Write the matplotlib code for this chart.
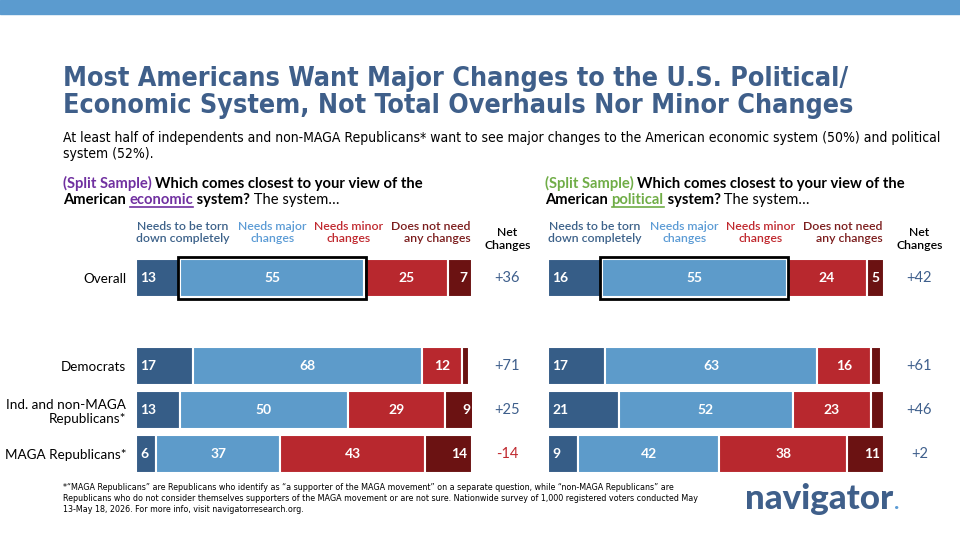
import matplotlib
matplotlib.use("Agg")
import matplotlib.pyplot as plt
from matplotlib.patches import Rectangle
from matplotlib.lines import Line2D
from matplotlib.font_manager import FontProperties, findfont

# ---- data ----
groups = ["Overall", "Democrats", "Ind. and non-MAGA\nRepublicans*", "MAGA Republicans*"]
answers = ["Needs to be torn\ndown completely", "Needs major\nchanges",
           "Needs minor\nchanges", "Does not need\nany changes"]

econ_torn = [13, 17, 13, 6]
econ_major = [55, 68, 50, 37]
econ_minor = [25, 12, 29, 43]
econ_none = [7, 2, 9, 14]
econ_net = [36, 71, 25, -14]

pol_torn = [16, 17, 21, 9]
pol_major = [55, 63, 52, 42]
pol_minor = [24, 16, 23, 38]
pol_none = [5, 3, 4, 11]
pol_net = [42, 61, 46, 2]

ypos = [0, 2, 3, 4]   # gap between Overall and the party rows

seg_colors = ["#365d87", "#5d9bca", "#b8282e", "#6b1212"]
head_colors = ["#3c6189", "#5b9bd5", "#c0282e", "#7b1c1c"]
title_blue = "#3f5f8a"
BODY = ["Lato", "DejaVu Sans"]


def condensed(weight):
    # the slide uses a condensed face; take one if it is installed
    for fam in ["Liberation Sans Narrow", "Noto Sans", "DejaVu Sans"]:
        try:
            p = findfont(FontProperties(family=fam, stretch="condensed", weight=weight),
                         fallback_to_default=False)
        except ValueError:
            continue
        if "ondensed" in p or "Narrow" in p:
            return dict(family=fam, fontstretch="condensed")
    return dict(family=BODY)


TITLE_FONT = condensed("bold")
NARROW = condensed("normal")

W, H = 960, 540
fig = plt.figure(figsize=(9.6, 5.4), dpi=100)
fig.patch.set_facecolor("white")
renderer = fig.canvas.get_renderer()


def fx(x):
    return x / W


def fy(y):
    return 1 - y / H


def fit(t, width):
    bb = t.get_window_extent(renderer)
    t.set_fontsize(t.get_fontsize() * width / bb.width)
    return t.get_fontsize()


# top band
fig.patches.append(Rectangle((0, fy(14)), 1, 14 / H, transform=fig.transFigure,
                             color="#5b9bcf", zorder=0))

# ---- title and subtitle ----
t1 = fig.text(fx(63), fy(86), "Most Americans Want Major Changes to the U.S. Political/",
              fontsize=22, fontweight="bold", color=title_blue, va="baseline", **TITLE_FONT)
tsize = fit(t1, 780)
fig.text(fx(63), fy(113), "Economic System, Not Total Overhauls Nor Minor Changes",
         fontsize=tsize, fontweight="bold", color=title_blue, va="baseline", **TITLE_FONT)
s1 = fig.text(fx(63), fy(142), "At least half of independents and non-MAGA Republicans* want to see major "
              "changes to the American economic system (50%) and political", fontsize=9.5,
              va="baseline", **NARROW)
ssize = fit(s1, 885)
fig.text(fx(63), fy(158), "system (52%).", fontsize=ssize, va="baseline", **NARROW)


def runs(x, y, parts, size=10.6):
    """Place text pieces one after another on a baseline (pixel coords)."""
    spans = []
    for s, kw in parts:
        t = fig.text(fx(x), fy(y), s, fontsize=size, va="baseline", family=BODY, **kw)
        w = t.get_window_extent(renderer).width
        spans.append((x, x + w))
        x += w
    return spans


def question(x, word, accent):
    runs(x, 188, [("(Split Sample) ", dict(color=accent, fontweight="bold")),
                  ("Which comes closest to your view of the", dict(color="black", fontweight="bold"))])
    spans = runs(x, 204, [("American ", dict(color="black", fontweight="bold")),
                          (word, dict(color=accent, fontweight="bold")),
                          (" system?", dict(color="black", fontweight="bold")),
                          (" The system\u2026", dict(color="black"))])
    u0, u1 = spans[1]
    fig.add_artist(Line2D([fx(u0), fx(u1)], [fy(206.5), fy(206.5)], color=accent, lw=1.2))


question(63, "economic", "#7030a0")
question(545, "political", "#70ad47")


def panel(x0, torn, major, minor, none, net, show_labels):
    ax = fig.add_axes([fx(x0), fy(476), 336 / W, 220 / H])
    vals = [torn, major, minor, none]
    left = [0] * len(groups)
    for k, series in enumerate(vals):
        ax.barh(ypos, series, left=left, height=0.86, color=seg_colors[k],
                edgecolor="white", linewidth=1.5)
        for i, v in enumerate(series):
            if v >= 5:
                if k == 0:
                    xt, ha = left[i] + 1.2, "left"
                elif k == 3:
                    xt, ha = left[i] + v - 1.3, "right"
                else:
                    xt, ha = left[i] + v / 2, "center"
                ax.text(xt, ypos[i], str(v), color="white", fontsize=10, fontweight="bold",
                        ha=ha, va="center", family=BODY)
        left = [a + b for a, b in zip(left, series)]
    # outline on the "major changes" segment of the Overall row
    ax.add_patch(Rectangle((torn[0] - 0.6, ypos[0] - 0.48), major[0] + 1.0, 0.96,
                           fill=False, edgecolor="black", linewidth=2, zorder=5, clip_on=False))
    ax.set_xlim(0, 100)
    ax.set_ylim(4.5, -0.5)
    for s in ax.spines.values():
        s.set_visible(False)
    ax.set_xticks([])
    if show_labels:
        ax.set_yticks(ypos, groups, fontsize=9.7, family=BODY, ha="right")
        ax.tick_params(axis="y", length=0, pad=7)
    else:
        ax.set_yticks([])
    # answer headers
    head_x = [14, 40.5, 63.3, 99.5]
    for k, lab in enumerate(answers):
        ax.text(head_x[k], 1.107, lab, transform=ax.get_xaxis_transform(),
                ha="right" if k == 3 else "center", va="center", fontsize=8.8,
                fontweight="semibold", color=head_colors[k], family=BODY,
                linespacing=1.15, clip_on=False)
    # net changes column
    net_x = 110.5
    ax.text(net_x, 1.077, "Net\nChanges", transform=ax.get_xaxis_transform(), ha="center",
            va="center", fontsize=8.8, fontweight="semibold", family=BODY, linespacing=1.2)
    for i, v in enumerate(net):
        ax.text(net_x, ypos[i], f"{v:+d}", ha="center", va="center", fontsize=10.5,
                color="#c0282e" if v < 0 else "#3e5f8c", family=BODY, clip_on=False)
    return ax


panel(136, econ_torn, econ_major, econ_minor, econ_none, econ_net, True)
panel(548, pol_torn, pol_major, pol_minor, pol_none, pol_net, False)

# ---- footer ----
f2 = fig.text(fx(63), fy(501), "Republicans who do not consider themselves supporters of the MAGA movement or are "
              "not sure. Nationwide survey of 1,000 registered voters conducted May", fontsize=6.3,
              va="baseline", **NARROW)
fsize = fit(f2, 635)
fig.text(fx(63), fy(490), "*\u201cMAGA Republicans\u201d are Republicans who identify as \u201ca supporter of the "
         "MAGA movement\u201d on a separate question, while \u201cnon-MAGA Republicans\u201d are",
         fontsize=fsize, va="baseline", **NARROW)
fig.text(fx(63), fy(512), "13-May 18, 2026. For more info, visit navigatorresearch.org.", fontsize=fsize,
         va="baseline", **NARROW)

logo = fig.text(fx(745), fy(509), "navigator", fontsize=25, fontweight="black", color=title_blue,
                family=BODY, va="baseline")
fit(logo, 148)
lb = logo.get_window_extent(renderer)
fig.text(fx(745) + lb.width / W + 0.001, fy(509), ".", fontsize=16, fontweight="bold",
         color="#5b9bd5", family=BODY, va="baseline")

fig.savefig("out.png", dpi=100)
